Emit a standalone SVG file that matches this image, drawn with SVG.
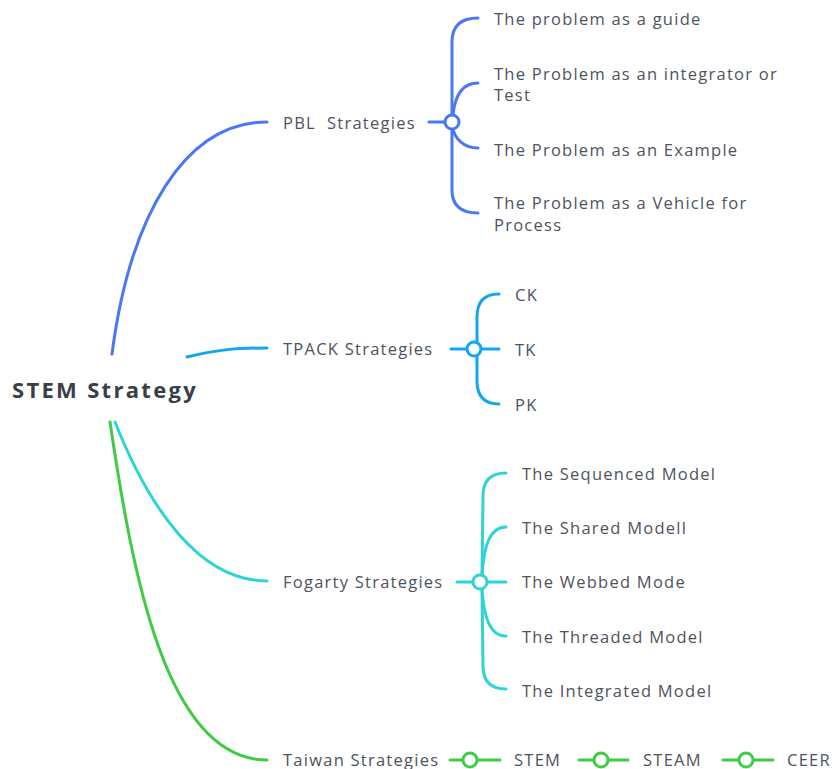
<svg xmlns="http://www.w3.org/2000/svg" width="838" height="769" viewBox="0 0 838 769">
  <style>
    .lbl { font-family: "Open Sans", "Liberation Sans", sans-serif; font-size: 16.5px; letter-spacing: 1.25px; fill: #4e5360; dominant-baseline: central; }
    .root { font-family: "Open Sans", "Liberation Sans", sans-serif; font-size: 22px; letter-spacing: 2.3px; font-weight: bold; fill: #3a3e47; dominant-baseline: central; }
    .ln { fill: none; stroke-width: 3; stroke-linecap: round; }
    .hub { fill: #ffffff; stroke-width: 3; }
    .pbl { stroke: #4a78f2; }
    .tp { stroke: #14a5f0; }
    .fg { stroke: #2fd3d6; }
    .tw { stroke: #3fcb45; }
  </style>
  <rect width="838" height="769" fill="#ffffff"/>

  <!-- connectors -->
  <g id="connectors">
    <!-- root to main branches -->
    <path class="ln pbl" d="M112,354 C130,215 185,122 267,122"/>
    <path class="ln tp" d="M187,357 C215,350 235,348 267,348"/>
    <path class="ln fg" d="M115,422 C150,510 200,581 267,581"/>
    <path class="ln tw" d="M110,422 C132,570 165,760 267,760"/>

    <!-- PBL children -->
    <path class="ln pbl" d="M429,122 L444,122"/>
    <path class="ln pbl" d="M452,115 L452,42 Q452,18 478,18"/>
    <path class="ln pbl" d="M453,115 C455,95 463,83 478,83"/>
    <path class="ln pbl" d="M453,129 C455,138 463,148 478,148"/>
    <path class="ln pbl" d="M452,129 L452,190 Q452,213 478,213"/>

    <!-- TPACK children -->
    <path class="ln tp" d="M451,349 L466,349"/>
    <path class="ln tp" d="M477,342 L477,317 Q477,294 499,294"/>
    <path class="ln tp" d="M482,349 L499,349"/>
    <path class="ln tp" d="M477,356 L477,381 Q477,404 499,404"/>

    <!-- Fogarty children -->
    <path class="ln fg" d="M457,582 L472,582"/>
    <path class="ln fg" d="M482,575 L483,496 Q483,473 506,473"/>
    <path class="ln fg" d="M482,575 C484,545 490,527 506,527"/>
    <path class="ln fg" d="M488,582 L506,582"/>
    <path class="ln fg" d="M482,589 C484,618 490,636 506,636"/>
    <path class="ln fg" d="M482,589 L483,666 Q483,689 506,689"/>

    <!-- Taiwan chain -->
    <path class="ln tw" d="M450,760 L500,760"/>
    <path class="ln tw" d="M579,760 L628,760"/>
    <path class="ln tw" d="M723,760 L773,760"/>
  </g>

  <!-- root -->
  <g id="root">
    <text class="root" x="12" y="389">STEM Strategy</text>
  </g>

  <!-- PBL -->
  <g id="pbl">
    <text class="lbl" x="283" y="122" xml:space="preserve">PBL  Strategies</text>
    <circle class="hub pbl" cx="452" cy="122" r="7"/>
  </g>
  <g id="pbl-guide"><text class="lbl" x="494" y="18">The problem as a guide</text></g>
  <g id="pbl-integrator">
    <text class="lbl" x="494" y="73">The Problem as an integrator or</text>
    <text class="lbl" x="494" y="94">Test</text>
  </g>
  <g id="pbl-example"><text class="lbl" x="494" y="149">The Problem as an Example</text></g>
  <g id="pbl-vehicle">
    <text class="lbl" x="494" y="202">The Problem as a Vehicle for</text>
    <text class="lbl" x="494" y="224">Process</text>
  </g>

  <!-- TPACK -->
  <g id="tpack">
    <text class="lbl" x="283" y="348">TPACK Strategies</text>
    <circle class="hub tp" cx="474" cy="349" r="7"/>
  </g>
  <g id="tpack-ck"><text class="lbl" x="515" y="294">CK</text></g>
  <g id="tpack-tk"><text class="lbl" x="515" y="349">TK</text></g>
  <g id="tpack-pk"><text class="lbl" x="515" y="404">PK</text></g>

  <!-- Fogarty -->
  <g id="fogarty">
    <text class="lbl" x="283" y="581">Fogarty Strategies</text>
    <circle class="hub fg" cx="480" cy="582" r="7"/>
  </g>
  <g id="fog-sequenced"><text class="lbl" x="522" y="473">The Sequenced Model</text></g>
  <g id="fog-shared"><text class="lbl" x="522" y="527">The Shared Modell</text></g>
  <g id="fog-webbed"><text class="lbl" x="522" y="581">The Webbed Mode</text></g>
  <g id="fog-threaded"><text class="lbl" x="522" y="636">The Threaded Model</text></g>
  <g id="fog-integrated"><text class="lbl" x="522" y="690">The Integrated Model</text></g>

  <!-- Taiwan -->
  <g id="taiwan">
    <text class="lbl" x="283" y="759">Taiwan Strategies</text>
    <circle class="hub tw" cx="470" cy="760" r="7"/>
  </g>
  <g id="tw-stem">
    <text class="lbl" x="514" y="759">STEM</text>
    <circle class="hub tw" cx="601" cy="760" r="7"/>
  </g>
  <g id="tw-steam">
    <text class="lbl" x="643" y="759">STEAM</text>
    <circle class="hub tw" cx="746" cy="760" r="7"/>
  </g>
  <g id="tw-ceer"><text class="lbl" x="787" y="759">CEER</text></g>
</svg>
